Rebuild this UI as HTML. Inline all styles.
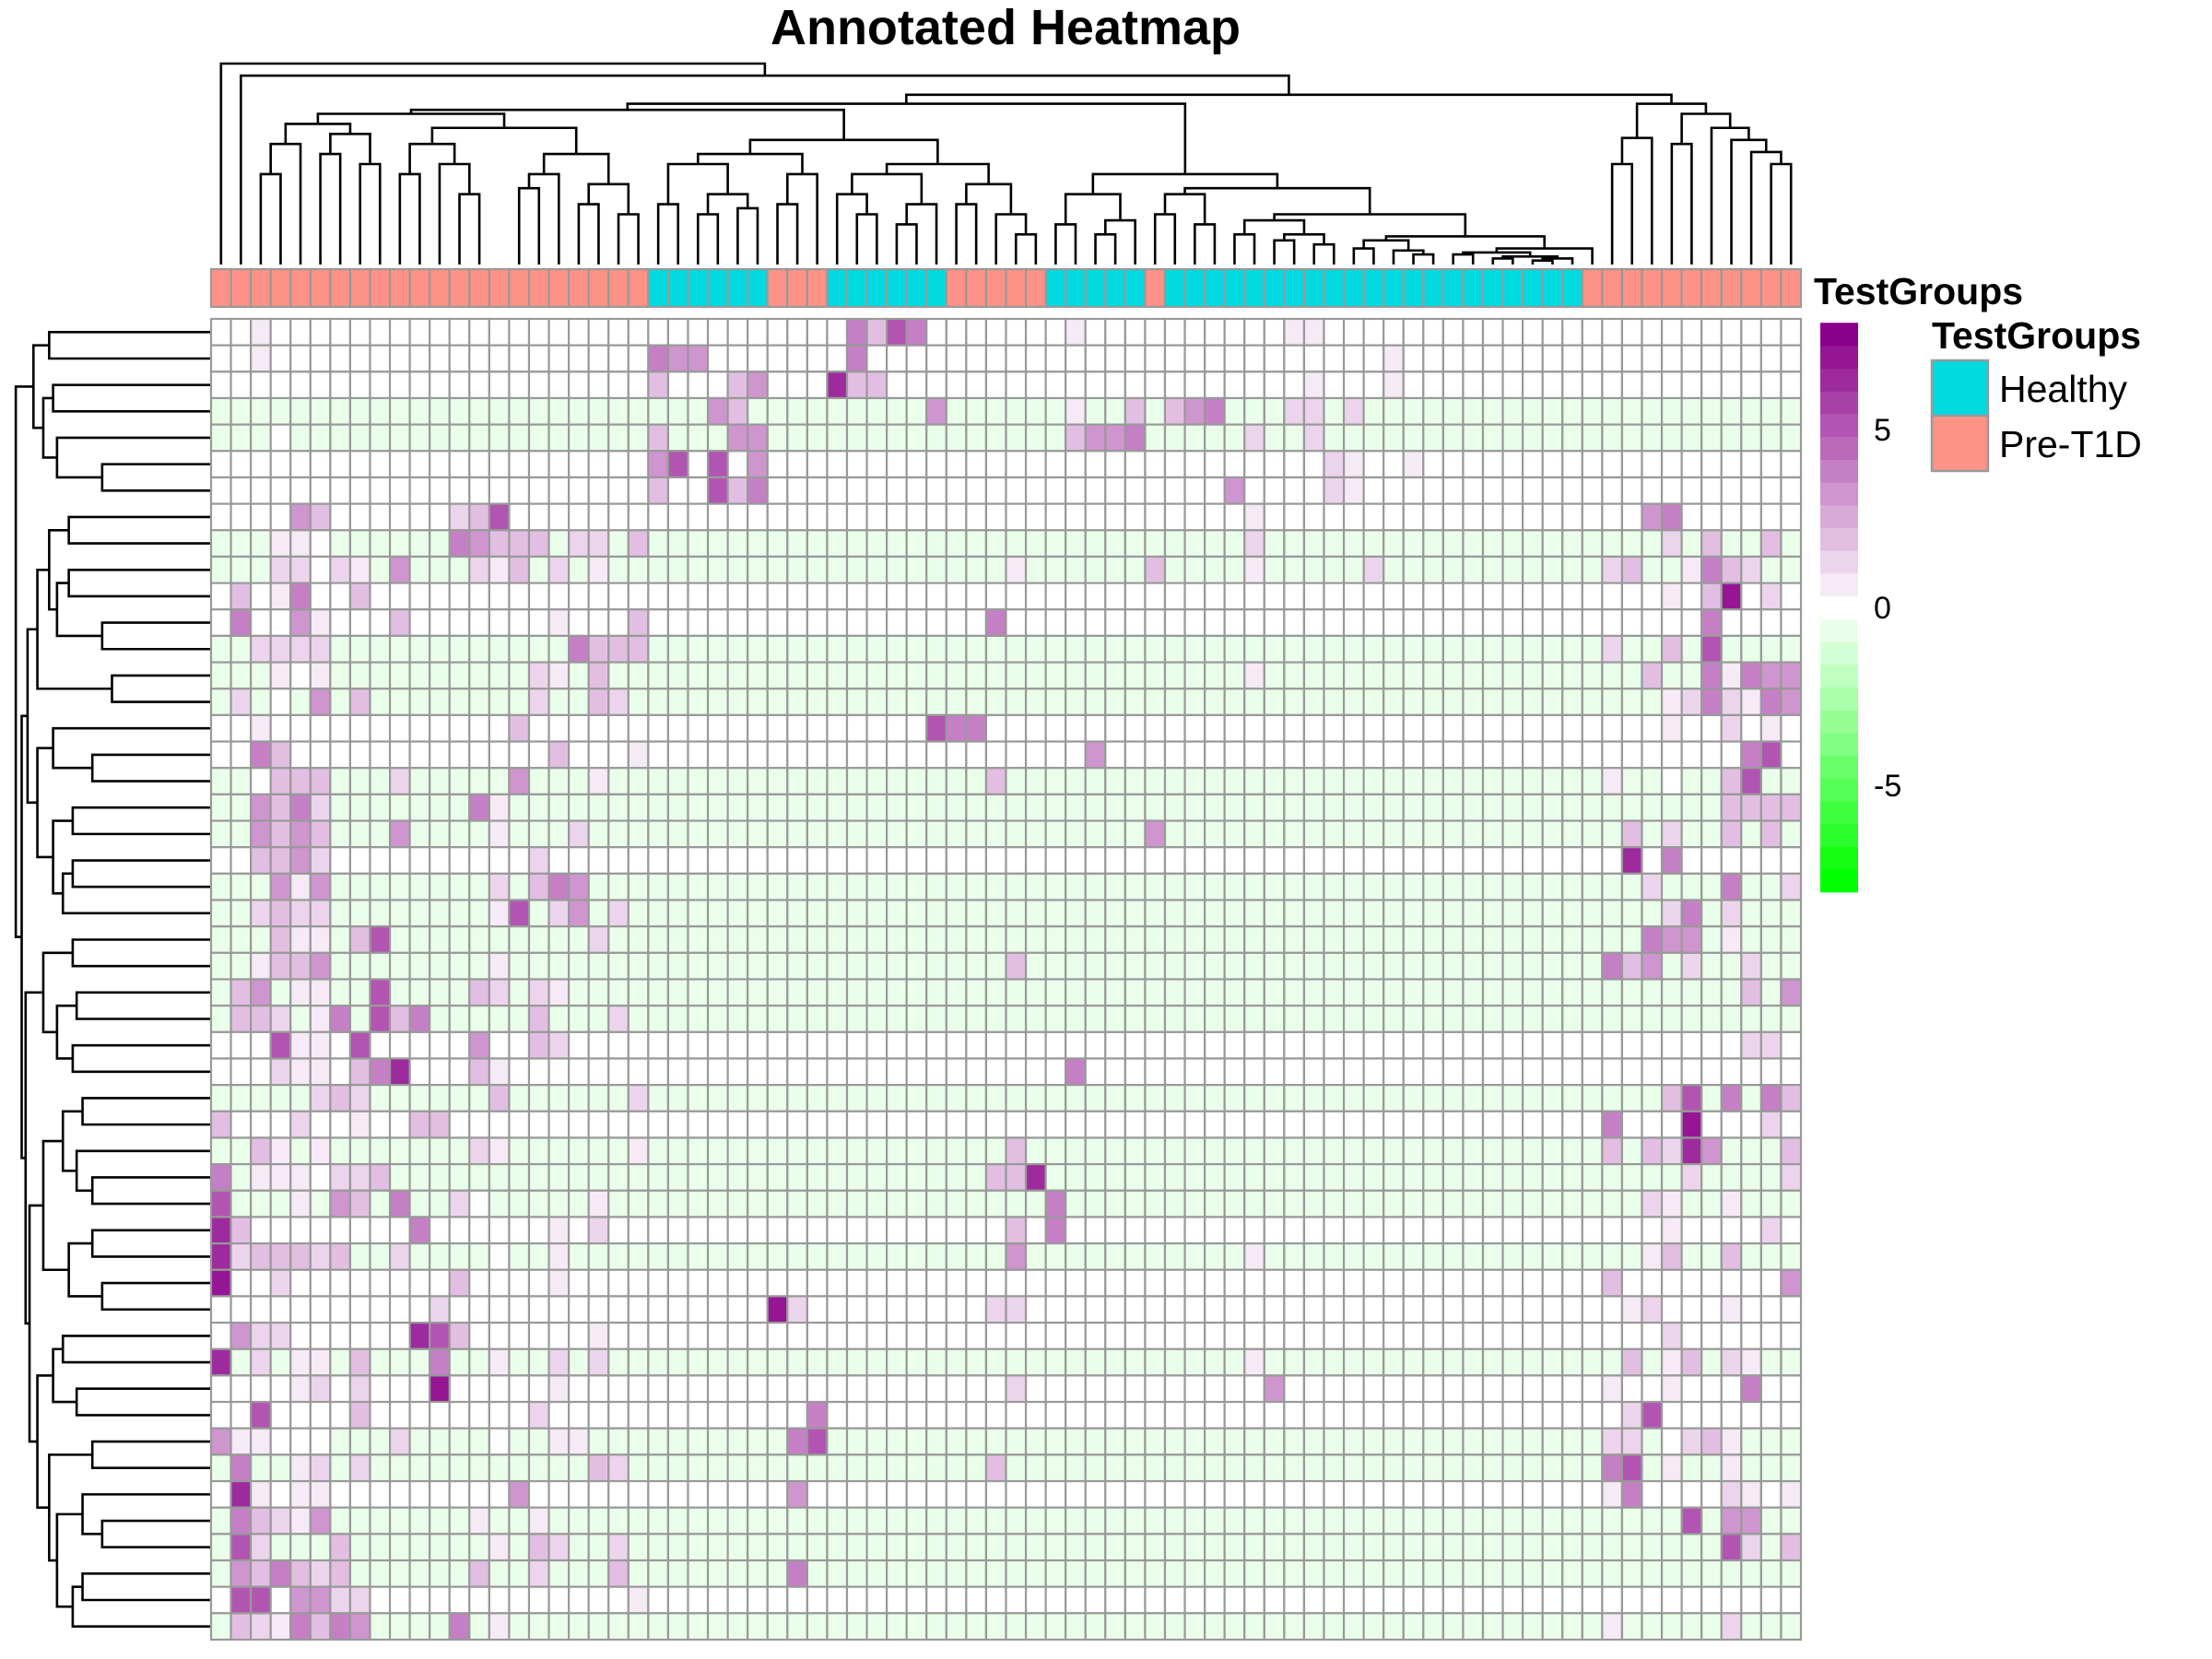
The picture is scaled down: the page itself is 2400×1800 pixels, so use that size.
<!DOCTYPE html>
<html><head><meta charset="utf-8"><title>Annotated Heatmap</title>
<style>html,body{margin:0;padding:0;background:#fff}svg{display:block}text{font-family:"Liberation Sans",sans-serif}</style>
</head><body>
<svg id="chart" xmlns="http://www.w3.org/2000/svg" width="2400" height="1800" viewBox="0 0 2400 1800">
<rect width="2400" height="1800" fill="#fff"/>
<text x="1091" y="48" font-size="54" font-weight="bold" text-anchor="middle">Annotated Heatmap</text>
<g id="coldendro"></g>
<g id="rowdendro"></g>
<g id="annot"></g>
<g id="cells"></g>
<g id="cbar"></g>
<text x="1968" y="330" font-size="41" font-weight="bold">TestGroups</text>
<g>
<text x="2096" y="378" font-size="41" font-weight="bold">TestGroups</text>
<rect x="2096" y="391" width="61" height="60" fill="#00DAE0" stroke="#999" stroke-width="2.5"/>
<rect x="2096" y="451" width="61" height="60" fill="#FF9287" stroke="#999" stroke-width="2.5"/>
<text x="2169" y="436" font-size="41">Healthy</text>
<text x="2169" y="496" font-size="41">Pre-T1D</text>
</g>
</svg>
<script>
// ---- data ----
const nRows = 50;
const nCols = 80;
const rowBase = "WWWGGWWWGGWWGGGWWGGGWGGGGGGWWGWGGGWGWWWGWWGGWGGGWG";
const levelValues = {"f":0.6,"w":0,"1":1.3,"2":1.9,"3":3.0,"4":4.1,"5":5.0,"6":6.3,"7":7.3};
const greenBaseValue = -0.7;
const rowCells = [
"2:f 32:4 33:2 34:5 35:4 43:f 54:f 55:f",
"2:f 22:4 23:3 24:3 32:4 59:f",
"22:2 26:2 27:3 31:6 32:2 33:2 55:f 59:f",
"25:3 26:2 36:3 43:f 46:2 48:2 49:3 50:4 54:1 55:1 57:1",
"3:w 22:2 26:3 27:3 43:2 44:3 45:3 46:4 52:1 55:1",
"22:3 23:5 25:5 27:3 56:1 57:f 60:f",
"22:2 25:5 26:2 27:4 51:3 56:1 57:f",
"4:3 5:2 12:1 13:2 14:5 52:f 72:3 73:4",
"3:f 4:f 5:w 12:4 13:3 14:2 15:2 16:2 18:1 19:1 21:2 52:1 73:1 75:2 78:2",
"3:1 4:1 5:w 6:1 7:f 9:3 13:1 14:f 15:2 17:1 19:f 40:f 47:2 52:f 58:1 70:1 71:2 74:f 75:4 76:2 77:1",
"1:2 3:f 4:4 7:2 73:f 75:2 76:7 78:1",
"1:4 4:3 5:f 9:2 17:f 21:2 39:4 75:4",
"2:1 3:1 4:1 5:1 18:4 19:2 20:2 21:2 70:1 73:2 75:5",
"3:f 4:w 5:f 16:1 17:f 19:2 52:f 72:2 75:4 76:f 77:4 78:3 79:3",
"1:1 3:w 5:3 7:2 16:1 19:2 20:1 73:f 74:1 75:4 76:1 77:f 78:4 79:3",
"2:f 15:2 36:5 37:4 38:4 73:f 76:1 78:f",
"2:4 3:2 17:2 21:f 44:3 77:4 78:5",
"2:w 3:2 4:2 5:2 9:1 15:3 19:f 39:2 70:f 73:w 76:2 77:5",
"2:3 3:2 4:4 5:1 13:4 14:f 76:2 77:2 78:2 79:2",
"2:3 3:2 4:3 5:2 9:3 14:f 18:1 47:3 71:2 73:1 76:2 78:2",
"2:2 3:2 4:3 5:1 16:1 71:6 73:4",
"3:3 4:f 5:3 14:1 16:2 17:4 18:3 72:1 76:4 79:1",
"2:1 3:2 4:1 5:1 14:f 15:5 17:1 18:3 20:1 73:1 74:4 76:1",
"3:2 4:f 5:f 7:2 8:5 19:1 72:4 73:3 74:3 76:f",
"2:f 3:2 4:2 5:3 14:f 40:2 70:4 71:2 72:3 74:1 77:1",
"1:2 2:3 4:f 5:f 8:5 13:2 14:1 16:1 17:f 77:2 79:3",
"1:2 2:2 3:1 5:f 6:4 8:5 9:2 10:4 16:2 20:1",
"3:5 4:f 5:f 7:5 13:3 16:2 17:1 77:1 78:1",
"3:1 4:f 5:f 7:2 8:4 9:6 13:2 14:f 43:4",
"5:1 6:2 7:1 14:2 21:1 73:2 74:5 76:4 78:4 79:2",
"0:2 4:1 7:f 10:2 11:2 70:4 74:7 78:1",
"2:2 3:f 5:f 13:1 14:f 21:f 40:2 70:2 72:2 73:1 74:6 75:3 79:2",
"0:4 2:f 3:f 4:f 5:w 6:1 7:1 8:2 39:2 40:2 41:6 74:1 79:1",
"0:5 4:f 6:3 7:2 9:4 12:1 13:w 19:f 42:4 72:1 73:f 76:f",
"0:6 1:2 10:4 17:f 19:1 40:2 42:4 73:f 78:1",
"0:6 1:1 2:2 3:2 4:2 5:1 6:2 9:1 14:w 17:f 40:3 52:f 72:f 73:2 76:2",
"0:7 3:1 12:2 17:f 70:2 79:3",
"11:1 28:7 29:1 39:1 40:1 71:f 72:1 76:f",
"1:3 2:1 3:1 10:6 11:5 12:2 19:f 73:1",
"0:6 2:1 4:f 5:f 7:2 11:4 14:f 17:1 19:1 52:f 71:2 73:f 74:2 76:1 77:f",
"4:f 5:1 7:1 11:7 17:f 40:1 53:3 70:f 73:f 77:4",
"2:5 7:2 16:1 30:4 71:1 72:5",
"0:3 1:f 2:f 3:w 4:w 5:w 9:1 14:w 17:f 18:f 29:4 30:5 70:1 71:1 73:w 74:1 75:2 76:f",
"1:4 4:f 5:1 7:1 19:2 20:1 39:2 70:4 71:5 73:f 76:f",
"1:6 2:f 4:f 5:f 15:3 29:3 70:f 71:4 76:1 77:f 79:f",
"1:4 2:2 3:1 4:f 5:3 13:f 16:f 74:5 76:3 77:3",
"1:5 2:1 6:2 14:f 16:2 17:1 20:1 76:5 77:1 79:2",
"1:3 2:2 3:4 4:2 5:1 6:2 13:2 16:1 20:2 29:4",
"1:5 2:5 4:3 5:3 6:1 7:1 21:f",
"1:2 2:1 3:f 4:4 5:2 6:4 7:3 12:4 14:f 70:f 76:1"
];
const groupRuns = [["Pre-T1D",22],["Healthy",6],["Pre-T1D",3],["Healthy",6],["Pre-T1D",5],["Healthy",5],["Pre-T1D",1],["Healthy",21],["Pre-T1D",11]];
const groupColors = {"Healthy":"#00DAE0","Pre-T1D":"#FF9287"};
const legendTicks = [5, 0, -5];
const legendMin = -8;
const legendMax = 8;
const legendBins = 25;

// column tree pieces (leaf indices, merge heights 0..1)
const cA = "((2,3)0.45,4)0.6";
const cB = "((5,6)0.55,(7,8)0.5)0.65";
const cC = "((9,10)0.45,(11,(12,13)0.35)0.5)0.6";
const cD = "(((15,16)0.38,17)0.45,((18,19)0.3,(20,21)0.25)0.4)0.55";
const cP = "((" + cA + "," + cB + ")0.7,(" + cC + "," + cD + ")0.68)0.75";
const cE = "((22,23)0.3,((24,25)0.25,(26,27)0.28)0.35)0.5";
const cF = "((28,29)0.3,30)0.45";
const cG = "((31,(32,33)0.25)0.35,((34,35)0.2,36)0.3)0.45";
const cH = "((37,38)0.3,(39,(40,41)0.15)0.25)0.4";
const cC2 = "((" + cE + "," + cF + ")0.55,(" + cG + "," + cH + ")0.5)0.62";
const cLM = "(" + cP + "," + cC2 + ")0.77";
const cM4 = "(((62,63)0.05,((64,65)0.03,((66,67)0.02,68)0.03)0.04)0.06,69)0.08";
const cM3 = "(((57,58)0.08,(59,(60,61)0.05)0.07)0.12," + cM4 + ")0.14";
const cM2 = "(((51,52)0.15,((53,54)0.12,(55,56)0.1)0.15)0.22," + cM3 + ")0.25";
const cM1 = "(((47,48)0.25,(49,50)0.2)0.35," + cM2 + ")0.38";
const cM = "(((42,43)0.2,((44,45)0.15,46)0.22)0.35," + cM1 + ")0.45";
const cR = "(((70,71)0.5,72)0.63,((73,74)0.6,(75,(76,(77,(78,79)0.5)0.56)0.62)0.68)0.75)0.8";
const colTree = "(0,(1,((" + cLM + "," + cM + ")0.8," + cR + ")0.845)0.94)1";

// row tree pieces
const rG1 = "((0,1)0.82,((2,3)0.8,(4,(5,6)0.55)0.78)0.85)0.9";
const rG2 = "(((7,8)0.72,((9,10)0.72,(11,12)0.55)0.78)0.82,(13,14)0.5)0.88";
const rG3 = "((15,(16,17)0.6)0.8,((18,19)0.7,((20,21)0.7,22)0.75)0.8)0.88";
const rG4 = "((23,24)0.7,((25,26)0.68,(27,28)0.7)0.78)0.85";
const rG5 = "(((29,30)0.65,(31,(32,33)0.6)0.68)0.75,((34,35)0.6,(36,37)0.55)0.72)0.85";
const rG6 = "(((38,39)0.75,(40,41)0.68)0.8,((42,43)0.6,((44,(45,46)0.55)0.65,((47,48)0.65,49)0.7)0.78)0.82)0.88";
const rowTree = "(" + rG1 + ",((" + rG2 + "," + rG3 + ")0.93,(" + rG4 + ",(" + rG5 + "," + rG6 + ")0.92)0.94)0.96)0.99";

// ---- layout ----
const NS = "http://www.w3.org/2000/svg";
const X0 = 229, X1 = 1954, Y0 = 346, Y1 = 1779;
const cw = (X1 - X0) / nCols, rh = (Y1 - Y0) / nRows;
const colX = c => X0 + c * cw;
const rowY = r => Y0 + r * rh;
function mk(tag, attrs, parent) {
  const e = document.createElementNS(NS, tag);
  for (const k in attrs) e.setAttribute(k, attrs[k]);
  parent.appendChild(e);
  return e;
}
function mix(a, b, t) {
  return "rgb(" + [0,1,2].map(i => Math.round(a[i] + (b[i] - a[i]) * t)).join(",") + ")";
}
const binW = (legendMax - legendMin) / legendBins;
function colorOf(v) {
  let k = Math.round(v / binW);
  const half = (legendBins - 1) / 2;
  k = Math.max(-half, Math.min(half, k));
  if (k > 0) return mix([255,255,255], [139,0,139], k / half);
  if (k < 0) return mix([255,255,255], [0,255,0], -k / half);
  return "#ffffff";
}

// ---- color legend ----
const gBar = document.getElementById("cbar");
const pxPerUnit = 38.6, zeroY = 659;
const vy = v => zeroY - v * pxPerUnit;
for (let k = 0; k < legendBins; k++) {
  const lo = legendMin + k * binW, hi = lo + binW;
  const el = mk("rect", {x: 1975, y: vy(hi), width: 41, height: binW * pxPerUnit + 0.5, fill: colorOf((lo + hi) / 2)}, gBar);
  
  
}
legendTicks.forEach(t => {
  const el = mk("text", {x: 2033, y: vy(t) + 12, "font-size": 34}, gBar);
  el.textContent = String(t);
  
  
});

// ---- matrix ----
const matrix = [];
for (let r = 0; r < nRows; r++) {
  const base = rowBase[r] === "G" ? greenBaseValue : 0;
  const row = new Array(nCols).fill(base);
  rowCells[r].split(" ").filter(s => s).forEach(tok => {
    const [c, l] = tok.split(":");
    row[+c] = levelValues[l];
  });
  matrix.push(row);
}
const gCells = document.getElementById("cells");
for (let r = 0; r < nRows; r++) {
  for (let c = 0; c < nCols; c++) {
    const el = mk("rect", {x: colX(c), y: rowY(r), width: cw, height: rh, fill: colorOf(matrix[r][c]), stroke: "#999", "stroke-width": 2.2}, gCells);
    
    
  }
}

// ---- annotation bar ----
const groups = [];
groupRuns.forEach(([g, n]) => { for (let i = 0; i < n; i++) groups.push(g); });
const gAnn = document.getElementById("annot");
groups.forEach((g, c) => {
  const el = mk("rect", {x: colX(c), y: 292, width: cw, height: 41, fill: groupColors[g], stroke: "#999", "stroke-width": 2.2}, gAnn);
  
  
});

// ---- dendrograms ----
function parseTree(s) {
  let i = 0;
  function num() {
    const m = /^[0-9.]+/.exec(s.slice(i));
    if (!m) return 0;
    i += m[0].length;
    return parseFloat(m[0]);
  }
  function node() {
    if (s[i] === "(") {
      i++; const a = node();
      if (s[i] === ",") i++;
      const b = node();
      if (s[i] === ")") i++;
      const h = num();
      return {a, b, h};
    }
    return {leaf: num(), h: 0};
  }
  return node();
}
function drawTree(tree, group, posOf, hOf, vertical) {
  function walk(n) {
    if (n.leaf !== undefined) { n.p = n.leaf + 0.5; return; }
    walk(n.a); walk(n.b);
    n.p = (n.a.p + n.b.p) / 2;
    const hp = hOf(n.h), pa = posOf(n.a.p), pb = posOf(n.b.p);
    const d = vertical
      ? `M${pa},${hOf(n.a.h)}V${hp}H${pb}V${hOf(n.b.h)}`
      : `M${hOf(n.a.h)},${pa}H${hp}V${pb}H${hOf(n.b.h)}`;
    const el = mk("path", {d, fill: "none", stroke: "#000", "stroke-width": 2.6}, group);
    
    
  }
  walk(tree);
}
try {
  drawTree(parseTree(colTree), document.getElementById("coldendro"), p => X0 + p * cw, h => 287 - h * 218, true);
} catch (e) {}
try {
  drawTree(parseTree(rowTree), document.getElementById("rowdendro"), p => Y0 + p * rh, h => 228 - h * 213, false);
} catch (e) {}
</script>
</body></html>
